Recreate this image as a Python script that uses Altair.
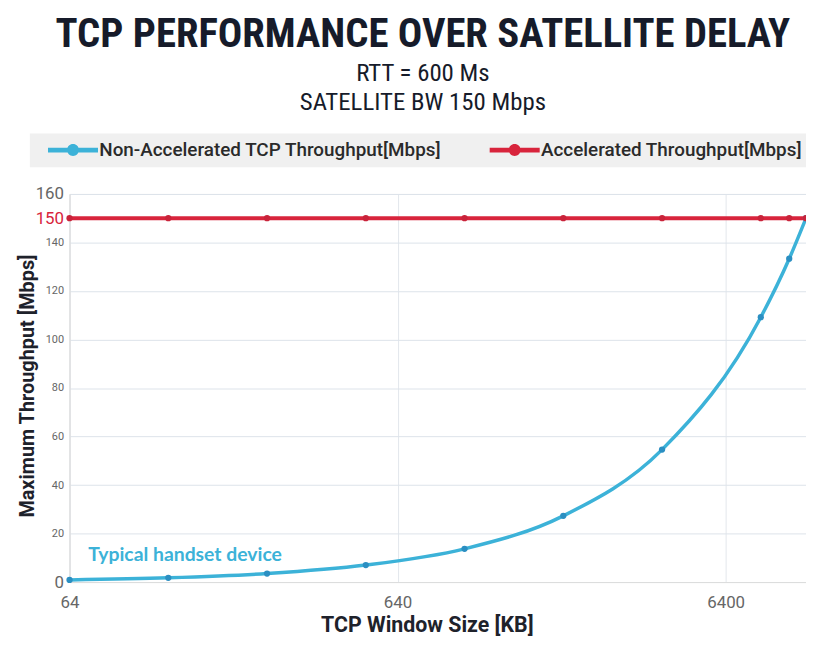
import altair as alt
import pandas as pd

window_kb = [64, 128, 256, 512, 1024, 2048, 4096, 8192, 10000, 11250]
non_acc = [0.87, 1.75, 3.5, 7.0, 13.7, 27.3, 54.6, 109.2, 133.3, 150]
acc = [150, 150, 150, 150, 150, 150, 150, 150, 150, 150]
series_names = ["Non-Accelerated TCP Throughput[Mbps]", "Accelerated Throughput[Mbps]"]
series_colors = ["#3cb2d8", "#d8243c"]
point_colors = ["#2b8fc2", "#c9233a"]
x_ticks = [64, 640, 6400]
y_ticks = [0, 20, 40, 60, 80, 100, 120, 140, 160, 150]
annot_text = ["Typical handset device"]
annot_x = [73]
annot_y = [11]

rows = []
for w, v in zip(window_kb, non_acc):
    rows.append({"window": w, "tp": v, "series": series_names[0]})
for w, v in zip(window_kb, acc):
    rows.append({"window": w, "tp": v, "series": series_names[1]})
df = pd.DataFrame(rows)
ann = pd.DataFrame({"x": annot_x, "y": annot_y, "t": annot_text})

xscale = alt.Scale(type="log", domain=[64, 11250], nice=False)
yscale = alt.Scale(domain=[0, 160], nice=False)

# symbol unit = 6px (size 144); line 50px wide, circle radius 6px
legend_path = ("M-4.2,-0.4 L4.2,-0.4 L4.2,0.4 L-4.2,0.4 Z "
               "M-1,0 A1,1 0 1,1 1,0 A1,1 0 1,1 -1,0 Z")

x_enc = alt.X("window:Q", scale=xscale,
              axis=alt.Axis(values=x_ticks, title="TCP Window Size [KB]", grid=True,
                            gridColor="#e3e7ec", labelFontSize=17, labelColor="#666666",
                            labelPadding=13, ticks=False, domainColor="#dddddd",
                            titleFontSize=21.5, titleFontWeight="bold", titleColor="#1e222b",
                            titleX=360, titleY=44, titleBaseline="middle",
                            labelFlush=False, format="d"))
y_enc = alt.Y("tp:Q", scale=yscale,
              axis=alt.Axis(values=y_ticks, title="Maximum Throughput [Mbps]", grid=True,
                            gridColor="#dde3ea", ticks=False, domainColor="#dddddd",
                            labelPadding=6,
                            labelFontSize=alt.ExprRef("datum.value==0||datum.value==160||datum.value==150?17:11"),
                            labelColor=alt.ExprRef("datum.value==150?'#d8243c':'#666666'"),
                            titleFontSize=20, titleFontWeight="bold", titleColor="#1e222b",
                            titleX=-42, titleY=193, titleAngle=-90, titleBaseline="middle",
                            titleAlign="center"))
color_enc = alt.Color("series:N",
                      scale=alt.Scale(domain=series_names, range=series_colors),
                      legend=alt.Legend(title=None, orient="none", legendX=-40, legendY=-61,
                                        direction="horizontal", fillColor="#f0f0f0",
                                        padding=7, symbolOffset=27, columnPadding=37,
                                        labelOffset=17, labelFontSize=19, labelFont="Roboto",
                                        labelFontWeight=500, labelColor="#2a2a2a",
                                        symbolType=legend_path, symbolSize=144,
                                        symbolStrokeWidth=0,
                                        symbolFillColor=alt.ExprRef("datum.value=='Accelerated Throughput[Mbps]'?'#d8243c':'#3cb2d8'"),
                                        labelLimit=500))

base = alt.Chart(df)
lines = base.mark_line(interpolate="monotone").encode(
    x=x_enc, y=y_enc, color=color_enc,
    strokeWidth=alt.condition("datum.series=='Accelerated Throughput[Mbps]'", alt.value(4), alt.value(3.5)))
points = base.mark_point(filled=True, size=40, opacity=1).encode(
    x="window:Q", y="tp:Q",
    fill=alt.Fill("series:N", scale=alt.Scale(domain=series_names, range=point_colors), legend=None))
text = alt.Chart(ann).mark_text(align="left", baseline="middle", fontSize=19.5, fontWeight="bold",
                                font="Lato", color="#3cb2d8").encode(
    x=alt.X("x:Q", scale=xscale), y=alt.Y("y:Q", scale=yscale), text="t:N")

chart = alt.layer(lines, points, text).resolve_scale(fill="independent").properties(
    width=742, height=391,
    padding={"left": 62, "top": 185, "right": 0, "bottom": 54},
    autosize=alt.AutoSizeParams(type="none"),
    title=alt.TitleParams(
        text="TCP PERFORMANCE OVER SATELLITE DELAY",
        subtitle=["RTT = 600 Ms", "SATELLITE BW 150 Mbps"],
        anchor="middle", dx=-15, offset=18,
        font="Roboto Condensed, DejaVu Sans Condensed, Liberation Sans Narrow, sans-serif",
        fontSize=41, fontWeight="bold", color="#161b2a",
        subtitleFont="Roboto Condensed, DejaVu Sans Condensed, Liberation Sans Narrow, sans-serif",
        subtitleFontSize=25, subtitleColor="#161b2a",
        subtitleLineHeight=29, subtitlePadding=5),
).configure_view(fill="#f5f5f5", stroke=None).configure(font="Roboto")

chart.save("out.html", embed_options={"renderer": "svg", "actions": False})
